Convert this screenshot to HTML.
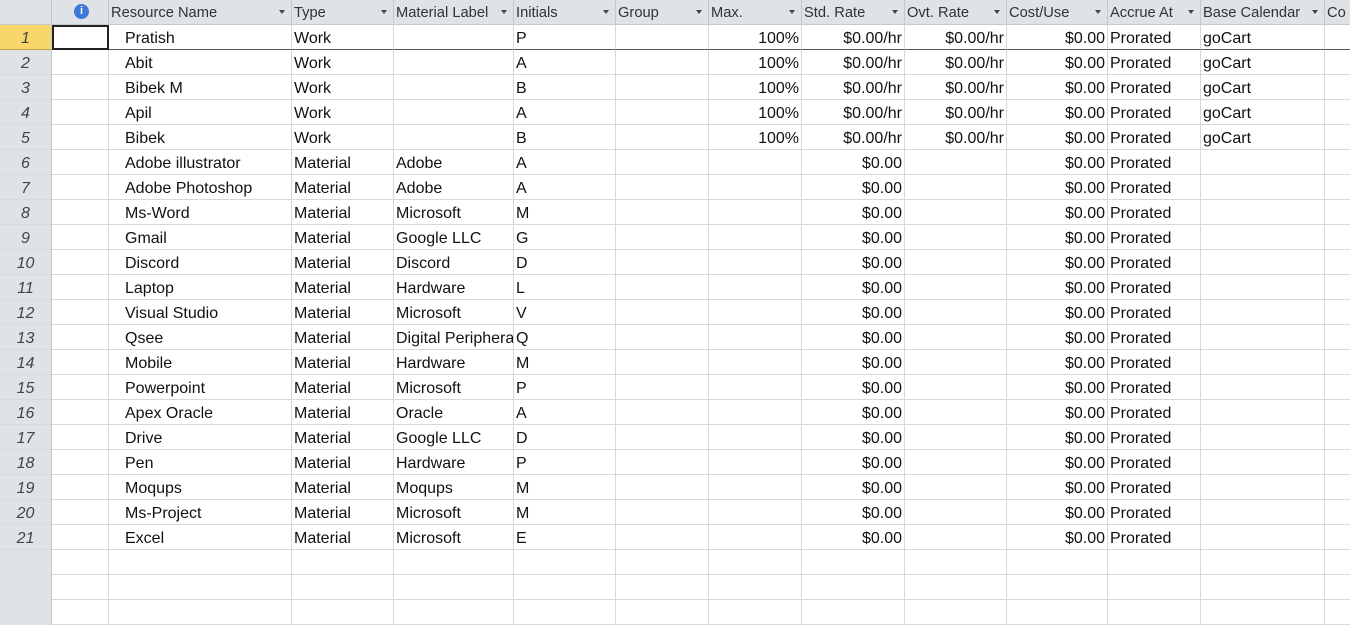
<!DOCTYPE html>
<html><head><meta charset="utf-8"><style>
body{margin:0;width:1350px;height:623px;overflow:hidden;background:#fff;font-family:"Liberation Sans",sans-serif;}
#g{position:absolute;left:0;top:0;width:1350px;height:623px;}
.c{position:absolute;box-sizing:border-box;border-right:1px solid #d5d9de;border-bottom:1px solid #d5d9de;font-size:16px;line-height:24px;padding-top:2px;color:#111;white-space:nowrap;overflow:hidden;padding-left:2px;padding-right:2px;}
.h{background:#dfe3e8;border-right:1px solid #c4c9cf;border-bottom:1px solid #c4c9cf;font-size:14.7px;color:#333;padding-top:1px;}
.h .dd{position:absolute;right:6px;top:10px;width:0;height:0;border-left:3.5px solid transparent;border-right:3.5px solid transparent;border-top:4px solid #444;}
.rh{background:#dfe3e8;border-right:1px solid #c4c9cf;font-style:italic;text-align:center;color:#444;}
.r{text-align:right;}
</style></head><body>
<div id="g"></div>
<script>
const cols=[["",52,109,"i"],["Resource Name",109,292],["Type",292,394],["Material Label",394,514],["Initials",514,616],["Group",616,709],["Max.",709,802,"r"],["Std. Rate",802,905,"r"],["Ovt. Rate",905,1007,"r"],["Cost/Use",1007,1108,"r"],["Accrue At",1108,1201],["Base Calendar",1201,1325],["Co",1325,1360]];
const names=["Pratish","Abit","Bibek M","Apil","Bibek","Adobe illustrator","Adobe Photoshop","Ms-Word","Gmail","Discord","Laptop","Visual Studio","Qsee","Mobile","Powerpoint","Apex Oracle","Drive","Pen","Moqups","Ms-Project","Excel"];
const labels=["","","","","","Adobe","Adobe","Microsoft","Google LLC","Discord","Hardware","Microsoft","Digital Periphera","Hardware","Microsoft","Oracle","Google LLC","Hardware","Moqups","Microsoft","Microsoft"];
const g=document.getElementById('g');
function cell(x,y,w,h,cls,txt){const d=document.createElement('div');d.className='c '+cls;d.style.left=x+'px';d.style.top=y+'px';d.style.width=w+'px';d.style.height=h+'px';d.textContent=txt;g.appendChild(d);return d;}
let hc=cell(0,0,52,25,'h','');


cols.forEach((c,i)=>{const d=cell(c[1],0,c[2]-c[1],25,'h',c[0]);


if(i===0){d.innerHTML='<span style="position:absolute;left:22px;top:4px;width:15px;height:15px;border-radius:50%;background:#3b78d8;color:#fff;font-size:11px;line-height:15px;text-align:center;font-weight:bold;font-style:normal">i</span>';}
else if(i<12){const s=document.createElement('span');s.className='dd';d.appendChild(s);}});
for(let r=0;r<24;r++){const y=25+r*25;const has=r<21;
const rh=cell(0,y,52,25,'rh',has?String(r+1):'');


if(!has)rh.style.borderBottom='none';
if(r===0){rh.style.background='#f9d66a';rh.style.borderBottom='1px solid #c4a040';}
const mat=r>=5;
const vals=has?["",names[r],mat?"Material":"Work",labels[r],names[r][0].toUpperCase(),"",mat?"":"100%",mat?"$0.00":"$0.00/hr",mat?"":"$0.00/hr","$0.00","Prorated",mat?"":"goCart",""]:cols.map(()=>"");
cols.forEach((c,i)=>{const d=cell(c[1],y,c[2]-c[1],25,c[3]==='r'?'r':'',vals[i]);


if(i===1)d.style.paddingLeft='16px';
if(r===0)d.style.borderBottom='1px solid #555';
if(r===0&&i===0){d.style.border='2px solid #222';}});}
</script>
</body></html>
